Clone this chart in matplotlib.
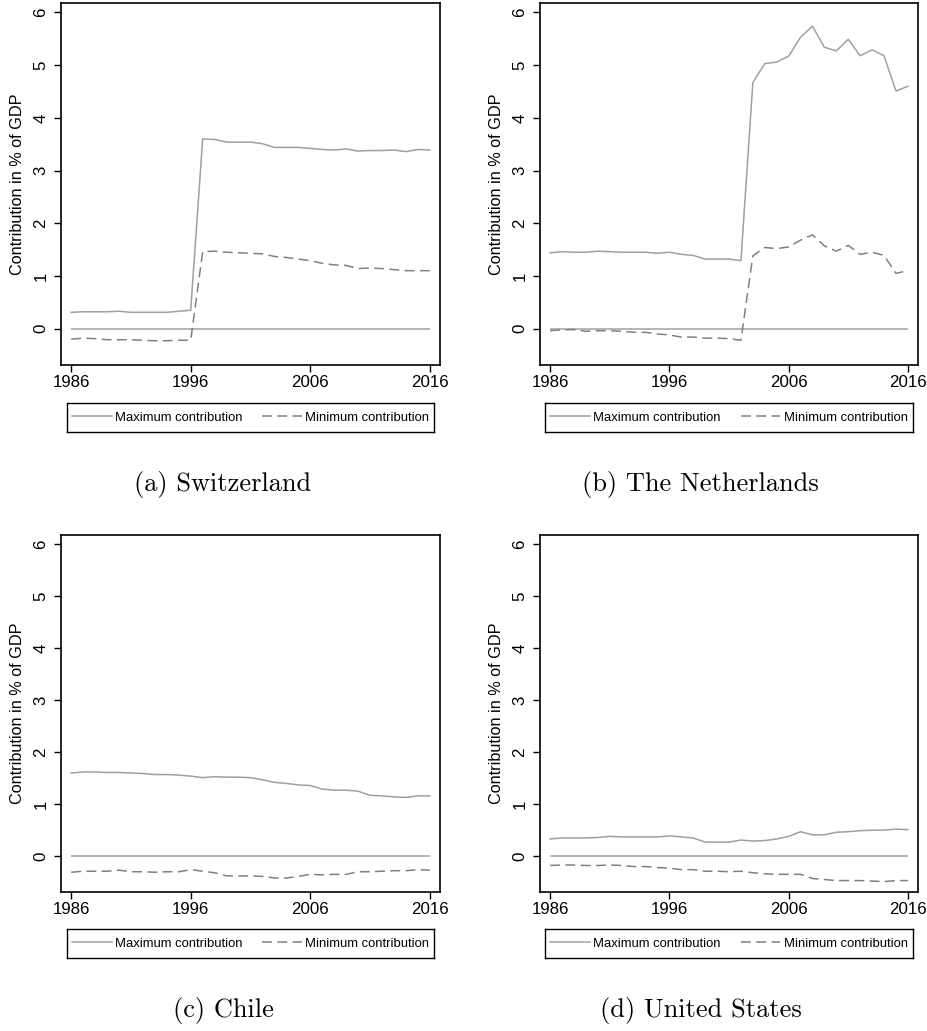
import numpy as np
import matplotlib
matplotlib.use("Agg")
import matplotlib.pyplot as plt

years = np.arange(1986, 2017)

ch_max = [0.31, 0.32, 0.32, 0.32, 0.33, 0.31, 0.31, 0.31, 0.31, 0.33, 0.35,
          3.60, 3.59, 3.54, 3.54, 3.54, 3.51, 3.44, 3.44, 3.44, 3.42, 3.40,
          3.39, 3.41, 3.37, 3.38, 3.38, 3.39, 3.36, 3.40, 3.39]
ch_min = [-0.20, -0.18, -0.19, -0.21, -0.21, -0.21, -0.22, -0.23, -0.23, -0.22, -0.22,
          1.46, 1.47, 1.45, 1.44, 1.43, 1.42, 1.37, 1.35, 1.32, 1.29, 1.24,
          1.21, 1.20, 1.14, 1.15, 1.14, 1.12, 1.10, 1.10, 1.10]

nl_max = [1.44, 1.46, 1.45, 1.45, 1.47, 1.46, 1.45, 1.45, 1.45, 1.43, 1.45,
          1.41, 1.39, 1.32, 1.32, 1.32, 1.29, 4.67, 5.03, 5.06, 5.17, 5.53,
          5.74, 5.34, 5.27, 5.49, 5.18, 5.29, 5.18, 4.51, 4.60]
nl_min = [-0.04, -0.02, -0.02, -0.05, -0.04, -0.04, -0.05, -0.07, -0.07, -0.10, -0.12,
          -0.16, -0.16, -0.18, -0.18, -0.19, -0.22, 1.38, 1.54, 1.52, 1.55, 1.68,
          1.78, 1.57, 1.47, 1.58, 1.41, 1.45, 1.39, 1.05, 1.10]

cl_max = [1.60, 1.62, 1.62, 1.61, 1.61, 1.60, 1.59, 1.57, 1.57, 1.56, 1.54,
          1.51, 1.53, 1.52, 1.52, 1.51, 1.47, 1.42, 1.40, 1.37, 1.36, 1.29,
          1.27, 1.27, 1.25, 1.17, 1.16, 1.14, 1.13, 1.16, 1.16]
cl_min = [-0.31, -0.29, -0.29, -0.29, -0.27, -0.30, -0.30, -0.31, -0.30, -0.30, -0.26,
          -0.29, -0.32, -0.38, -0.38, -0.38, -0.39, -0.42, -0.42, -0.39, -0.35, -0.36,
          -0.35, -0.35, -0.30, -0.30, -0.29, -0.28, -0.28, -0.26, -0.27]

us_max = [0.33, 0.35, 0.35, 0.35, 0.36, 0.38, 0.37, 0.37, 0.37, 0.37, 0.39,
          0.37, 0.35, 0.27, 0.27, 0.27, 0.31, 0.29, 0.30, 0.33, 0.38, 0.47,
          0.41, 0.41, 0.46, 0.47, 0.49, 0.50, 0.50, 0.52, 0.51]
us_min = [-0.18, -0.17, -0.17, -0.18, -0.18, -0.17, -0.18, -0.20, -0.20, -0.22, -0.23,
          -0.26, -0.26, -0.29, -0.29, -0.30, -0.29, -0.32, -0.34, -0.35, -0.35, -0.35,
          -0.43, -0.45, -0.47, -0.47, -0.47, -0.48, -0.49, -0.47, -0.47]

captions = ["(a) Switzerland", "(b) The Netherlands", "(c) Chile", "(d) United States"]
panels = [(ch_max, ch_min), (nl_max, nl_min), (cl_max, cl_min), (us_max, us_min)]
xticks = [1986, 1996, 2006, 2016]
yticks = [0, 1, 2, 3, 4, 5, 6]
ylabel = "Contribution in % of GDP"
labels = ["Maximum contribution", "Minimum contribution"]

plt.rcParams['font.family'] = ['Liberation Sans', 'DejaVu Sans']

W, H = 928, 1031
fig = plt.figure(figsize=(W / 100, H / 100), dpi=100)

# pixel layout: (left, right, top, bottom)
axes_px = [(61, 440, 3, 365), (540, 918, 3, 365),
           (61, 440, 535, 892), (540, 918, 535, 892)]
leg_px = [(67, 434, 403, 432), (545, 913, 403, 432),
          (67, 434, 929, 958), (545, 913, 929, 958)]
cap_px = [(223, 484), (700, 484), (223, 1010), (701, 1010)]

solid_c = "#a0a0a0"
dash_c = "#808080"

for i, (mx, mn) in enumerate(panels):
    l, r, t, b = axes_px[i]
    ax = fig.add_axes([l / W, 1 - b / H, (r - l) / W, (b - t) / H])
    ax.hlines(0, years[0], years[-1], color=solid_c, lw=1.1)
    h1, = ax.plot(years, mx, color=solid_c, lw=1.1, label=labels[0])
    h2, = ax.plot(years, mn, color=dash_c, lw=1.1, ls=(0, (6.5, 3.5)), label=labels[1])
    ax.set_xlim(1985.15, 2016.85)
    ax.set_ylim(-0.69, 6.18)
    ax.set_xticks(xticks)
    ax.set_yticks(yticks)
    ax.tick_params(axis='y', labelrotation=90, labelsize=12.2, length=5, width=1, pad=4)
    ax.tick_params(axis='x', labelsize=12.2, length=5, width=1, pad=2.5)
    for lab in ax.get_yticklabels():
        lab.set_va('center')
    ax.set_ylabel(ylabel, fontsize=11.7, labelpad=6)
    for s in ax.spines.values():
        s.set_linewidth(1.2)
    # legend
    ll, lr, lt, lb = leg_px[i]
    lax = fig.add_axes([ll / W, 1 - lb / H, (lr - ll) / W, (lb - lt) / H])
    lax.set_xticks([]); lax.set_yticks([])
    for s in lax.spines.values():
        s.set_linewidth(1.0)
    lax.legend([h1, h2], labels, loc='center', ncol=2, frameon=False,
               fontsize=9.4, handlelength=3.06, columnspacing=1.5,
               handletextpad=0.25, borderaxespad=0, borderpad=0)
    cx, cy = cap_px[i]
    fig.text(cx / W, 1 - cy / H, captions[i], ha='center', va='center',
             fontsize=19, family='cmr10')

fig.savefig("out.png", dpi=100)
